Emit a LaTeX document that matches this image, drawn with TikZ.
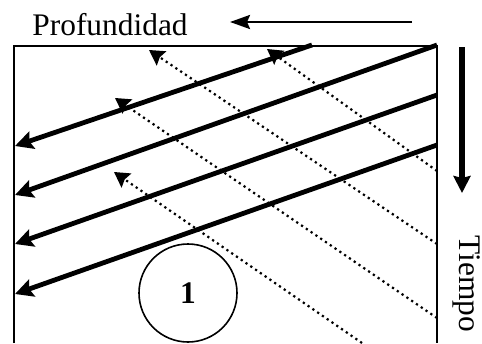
\documentclass[tikz,border=0pt]{standalone}
\usepackage{fontspec}
\setmainfont{Liberation Serif}
\usetikzlibrary{arrows.meta}

\begin{document}
\begin{tikzpicture}[x=0.5pt, y=-0.5pt,
    ray/.style={line width=2.4pt, -{Stealth[length=9pt, width=9pt, inset=1.5pt]}},
    echo/.style={line width=1.1pt, dash pattern=on 1.1pt off 1.8pt,
      -{Stealth[length=7.5pt, width=8.5pt, inset=1pt]}},
    lbl/.style={inner sep=0pt, font=\fontsize{15.7}{18}\selectfont}]
    \useasboundingbox (0,0) rectangle (482,343);

    % Box, open at the bottom
    \draw[line width=1.2pt] (14,343) -- (14,46) -- (437,46) -- (437,343);

    % Labels
    \node[lbl, anchor=base west] (prof) at (32,35) {Profundidad};
    \node[lbl, anchor=base west, rotate=-90] (tiempo) at (459,235) {Tiempo};
    \node[lbl, draw, circle, line width=0.8pt, minimum size=49pt,
      font=\fontsize{15.7}{18}\selectfont\bfseries] (uno) at (188,293) {1};

    % Axis arrows
    \coordinate (pA) at (412,22);
    \coordinate (pB) at (230,22);
    \draw[line width=1.3pt, -{Stealth[length=10pt, width=7pt, inset=1.5pt]}] (pA) -- (pB);
    \coordinate (tA) at (462,47);
    \coordinate (tB) at (462,193);
    \draw[line width=2.6pt, -{Stealth[length=8.5pt, width=8.5pt, inset=1pt]}] (tA) -- (tB);

    % Rays: index/start x/start y/end y
    \foreach \i/\xs/\ys/\ye in {1/312/45/146, 2/437/45/195, 3/437/95/244, 4/437/145/294} {
      \coordinate (s\i) at (\xs,\ys);
      \coordinate (e\i) at (15,\ye);
      \draw[ray] (s\i) -- (e\i);
    }

    % Echoes: index/start/tip
    \foreach \i/\xs/\ys/\xe/\ye in {1/437/171/267/49, 2/437/244/149/50,
      3/437/318/115/98, 4/362/343/114/172} {
      \coordinate (a\i) at (\xs,\ys);
      \coordinate (b\i) at (\xe,\ye);
      \draw[echo] (a\i) -- (b\i);
    }
  \end{tikzpicture}
\end{document}
